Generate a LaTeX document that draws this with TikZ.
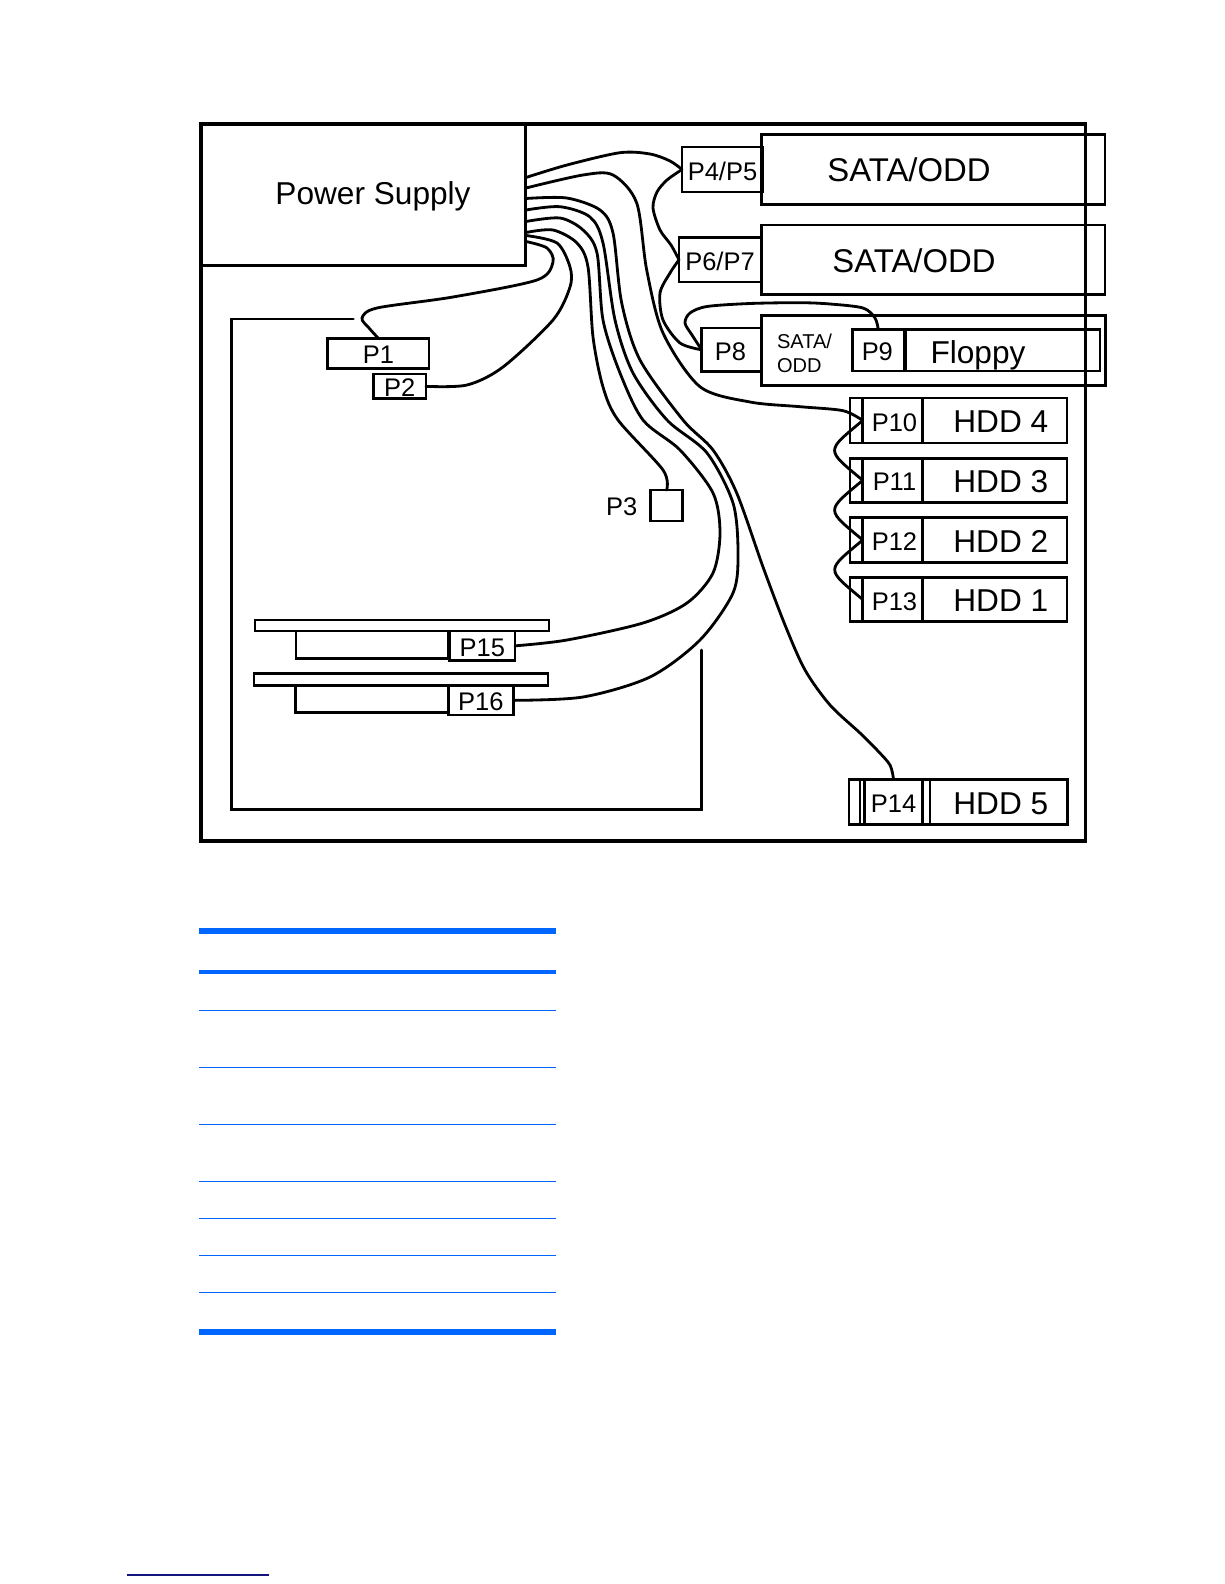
\documentclass[tikz,border=0pt]{standalone}
\usepackage{fontspec}
\setmainfont{Liberation Sans}
\definecolor{rulesblue}{HTML}{0066FF}
\definecolor{footnavy}{HTML}{14147F}
\tikzset{
  box/.style 2 args={draw,line width=1.5pt,minimum width=#1*0.02cm,minimum height=#2*0.02cm,
    inner sep=0pt,outer sep=0pt},
  tag/.style={text height=12pt,text depth=0pt,font=\fontsize{14.5}{16}\selectfont},
  biglabel/.style={inner sep=0pt,font=\fontsize{18}{20}\selectfont},
  oddlabel/.style={inner sep=0pt,font=\fontsize{18.7}{20}\selectfont},
  cable/.style={line width=1.6pt,line cap=round,line join=round},
  daisy/.style={cable,out=220,in=140,looseness=2.1},
  wall/.style={line width=1.7pt,line cap=round},
}
\begin{document}
\begin{tikzpicture}[x=0.02cm,y=-0.02cm]
  \useasboundingbox (0,0) rectangle (1224,1584);

  \node[box={884.5}{717},line width=2.2pt] (chassis) at (643.25,482.5) {};
  \node[box={324.7}{141.7}] (psu) at (363.35,194.85) {};
  \node[biglabel,anchor=base] (psutext) at (373,204.5) {Power Supply};

  \node[box={343.3}{70}] (odd1) at (933.35,169.3) {};
  \node[oddlabel] (odd1text) at (909,170) {SATA/ODD};
  \node[box={343.3}{69.3}] (odd2) at (933.35,259.65) {};
  \node[oddlabel] (odd2text) at (914,260.7) {SATA/ODD};
  \node[box={344}{70}] (odd3) at (933.7,350.7) {};
  \node[anchor=west,inner sep=0pt,align=left,font=\fontsize{11.4}{13.4}\selectfont] (odd3text) at (776.7,353.5) {SATA/\\ODD};
  \node[box={81}{45},tag] (p45) at (722.5,169.5) {P4/P5};
  \node[box={82}{44.3},tag] (p67) at (720,259.8) {P6/P7};
  \node[box={59.3}{43.7},tag] (p8) at (731.3,349.8) {\kern-1pt P8};
  \node[box={51.7}{41.7},tag] (p9) at (878.2,350.2) {\kern-1pt P9};
  \node[box={194.5}{41.7}] (floppy) at (1002.8,350.2) {};
  \node[biglabel] (floppytext) at (978,355) {Floppy};

  \node[box={217}{45}] (hdd4) at (958.5,420.5) {};
  \node[box={60}{45},tag] (p10) at (892.7,420.5) {\kern2pt P10};
  \node[biglabel] (hdd4text) at (1000.8,422) {HDD 4};
  \node[box={217}{44}] (hdd3) at (958.5,480.3) {};
  \node[box={60}{44},tag] (p11) at (892.7,480.3) {\kern2pt P11};
  \node[biglabel] (hdd3text) at (1000.8,482) {HDD 3};
  \node[box={217}{44.6}] (hdd2) at (958.5,540) {};
  \node[box={60}{44.6},tag] (p12) at (892.7,540) {\kern2pt P12};
  \node[biglabel] (hdd2text) at (1000.8,541.5) {HDD 2};
  \node[box={217}{44.4}] (hdd1) at (958.5,599.5) {};
  \node[box={60}{44.4},tag] (p13) at (892.7,599.5) {\kern2pt P13};
  \node[biglabel] (hdd1text) at (1000.8,601) {HDD 1};

  \node[box={218.3}{45}] (hdd5) at (958.2,801.8) {};
  \node[box={70}{45}] (hdd5collar) at (895,801.8) {};
  \node[box={58.4}{45},tag] (p14) at (893.5,801.8) {P14};
  \node[biglabel] (hdd5text) at (1000.8,803.5) {HDD 5};

  \node[box={101.3}{30},tag] (p1) at (378.35,353.3) {P1};
  \node[box={52.7}{24.7},tag] (p2) at (399.65,386.35) {P2};
  \node[box={32}{31}] (p3) at (666.7,505.5) {};
  \node[inner sep=0pt,font=\fontsize{14.5}{16}\selectfont] (p3text) at (621.7,507) {P3};

  \node[box={294}{11}] (slot1) at (402,625.5) {};
  \node[box={152}{27.3}] (card1) at (372,644.65) {};
  \node[box={65.5}{29.7},tag] (p15) at (482.25,645.85) {P15};
  \node[box={294}{12.4}] (slot2) at (401,679.5) {};
  \node[box={152.7}{27}] (card2) at (371.65,699.2) {};
  \node[box={64.8}{29.3},tag] (p16) at (480.9,700.35) {P16};

  \coordinate (wall1) at (353.3,319);
  \coordinate (wall2) at (231.7,319);
  \coordinate (wall3) at (231.7,809);
  \coordinate (wall4) at (701,809);
  \coordinate (wall5) at (701,650);
  \draw[wall] (wall1) -- (wall2) -- (wall3) -- (wall4) -- (wall5);

  \coordinate (out1) at (526,177.5);
  \coordinate (out2) at (526,188);
  \coordinate (out3) at (526,198.5);
  \coordinate (out4) at (526,210);
  \coordinate (out5) at (526,221.5);
  \coordinate (out6) at (526,232.5);
  \coordinate (out7) at (526,235.5);
  \coordinate (out8) at (526,241.5);

  \draw[cable] plot[smooth] coordinates {(out1) (567,165) (620,152.7) (650,154) (670,161) (p45.west)};
  \draw[cable] plot[smooth] coordinates {(p45.west) (667,180) (657,192) (653,208) (660,230) (671,245) (p67.west)};
  \draw[cable] plot[smooth] coordinates {(p67.west) (670,273) (660,293) (663,320) (680,343) (p8.west)};
  \draw[cable] plot[smooth] coordinates {(p8.west) (692,335) (685,323) (690,313) (707,306.5) (750,303.5) (800,302.7) (830,304) (863,308) (875,318) (p9.north)};
  \draw[cable] plot[smooth] coordinates {(out2) (583,175) (613,175) (636.7,203) (646.7,270) (663,333) (700,386.7) (750,402) (800,406.7) (843,410.7) (p10.west)};
  \draw[daisy] (p10.west) to (p11.west);
  \draw[daisy] (p11.west) to (p12.west);
  \draw[daisy] (p12.west) to (p13.west);
  \draw[cable] plot[smooth] coordinates {(out3) (566.7,198) (600,210) (613,233) (621.7,303) (640,360) (683,420) (713,450) (736.7,493) (763,567) (785,625) (805,670) (830,705) (860,733) (877,750) (890,765) (p14.north)};
  \draw[cable] plot[smooth] coordinates {(out4) (560,206.7) (590,217) (603,243) (615,320) (633,373) (667,420) (707,453) (733,503) (738,553) (733,593) (700,640) (650,677) (583,697) (p16.east)};
  \draw[cable] plot[smooth] coordinates {(out5) (560,218) (583,230) (597,253) (603,320) (620,373) (643,420) (680,450) (713,493) (720,533) (713,573) (687,603) (643,623) (567,640) (p15.east)};
  \draw[cable] plot[smooth] coordinates {(out6) (553,230) (577,243) (588,267) (593,337) (603,387) (618,420) (663,470) (p3.north)};
  \draw[cable] plot[smooth] coordinates {(out7) (557,243) (570,267) (570,287) (553,320) (503,367) (467,385) (p2.east)};
  \draw[cable] plot[smooth] coordinates {(out8) (547,248) (553,262) (537,280) (453,297) (377,308) (362,318) (369,328) (p1.north)};

  \draw[rulesblue,line width=3.4pt] (199,930.7) -- (556,930.7);
  \draw[rulesblue,line width=2.3pt] (199,972) -- (556,972);
  \draw[rulesblue,line width=0.75pt] (199,1010.3) -- (556,1010.3);
  \draw[rulesblue,line width=0.75pt] (199,1067.3) -- (556,1067.3);
  \draw[rulesblue,line width=0.75pt] (199,1124.3) -- (556,1124.3);
  \draw[rulesblue,line width=0.75pt] (199,1181.3) -- (556,1181.3);
  \draw[rulesblue,line width=0.75pt] (199,1218.3) -- (556,1218.3);
  \draw[rulesblue,line width=0.75pt] (199,1255.3) -- (556,1255.3);
  \draw[rulesblue,line width=0.75pt] (199,1292.3) -- (556,1292.3);
  \draw[rulesblue,line width=3.4pt] (199,1332) -- (556,1332);

  \draw[footnavy,line width=0.75pt] (127,1575) -- (269,1575);
\end{tikzpicture}
\end{document}
